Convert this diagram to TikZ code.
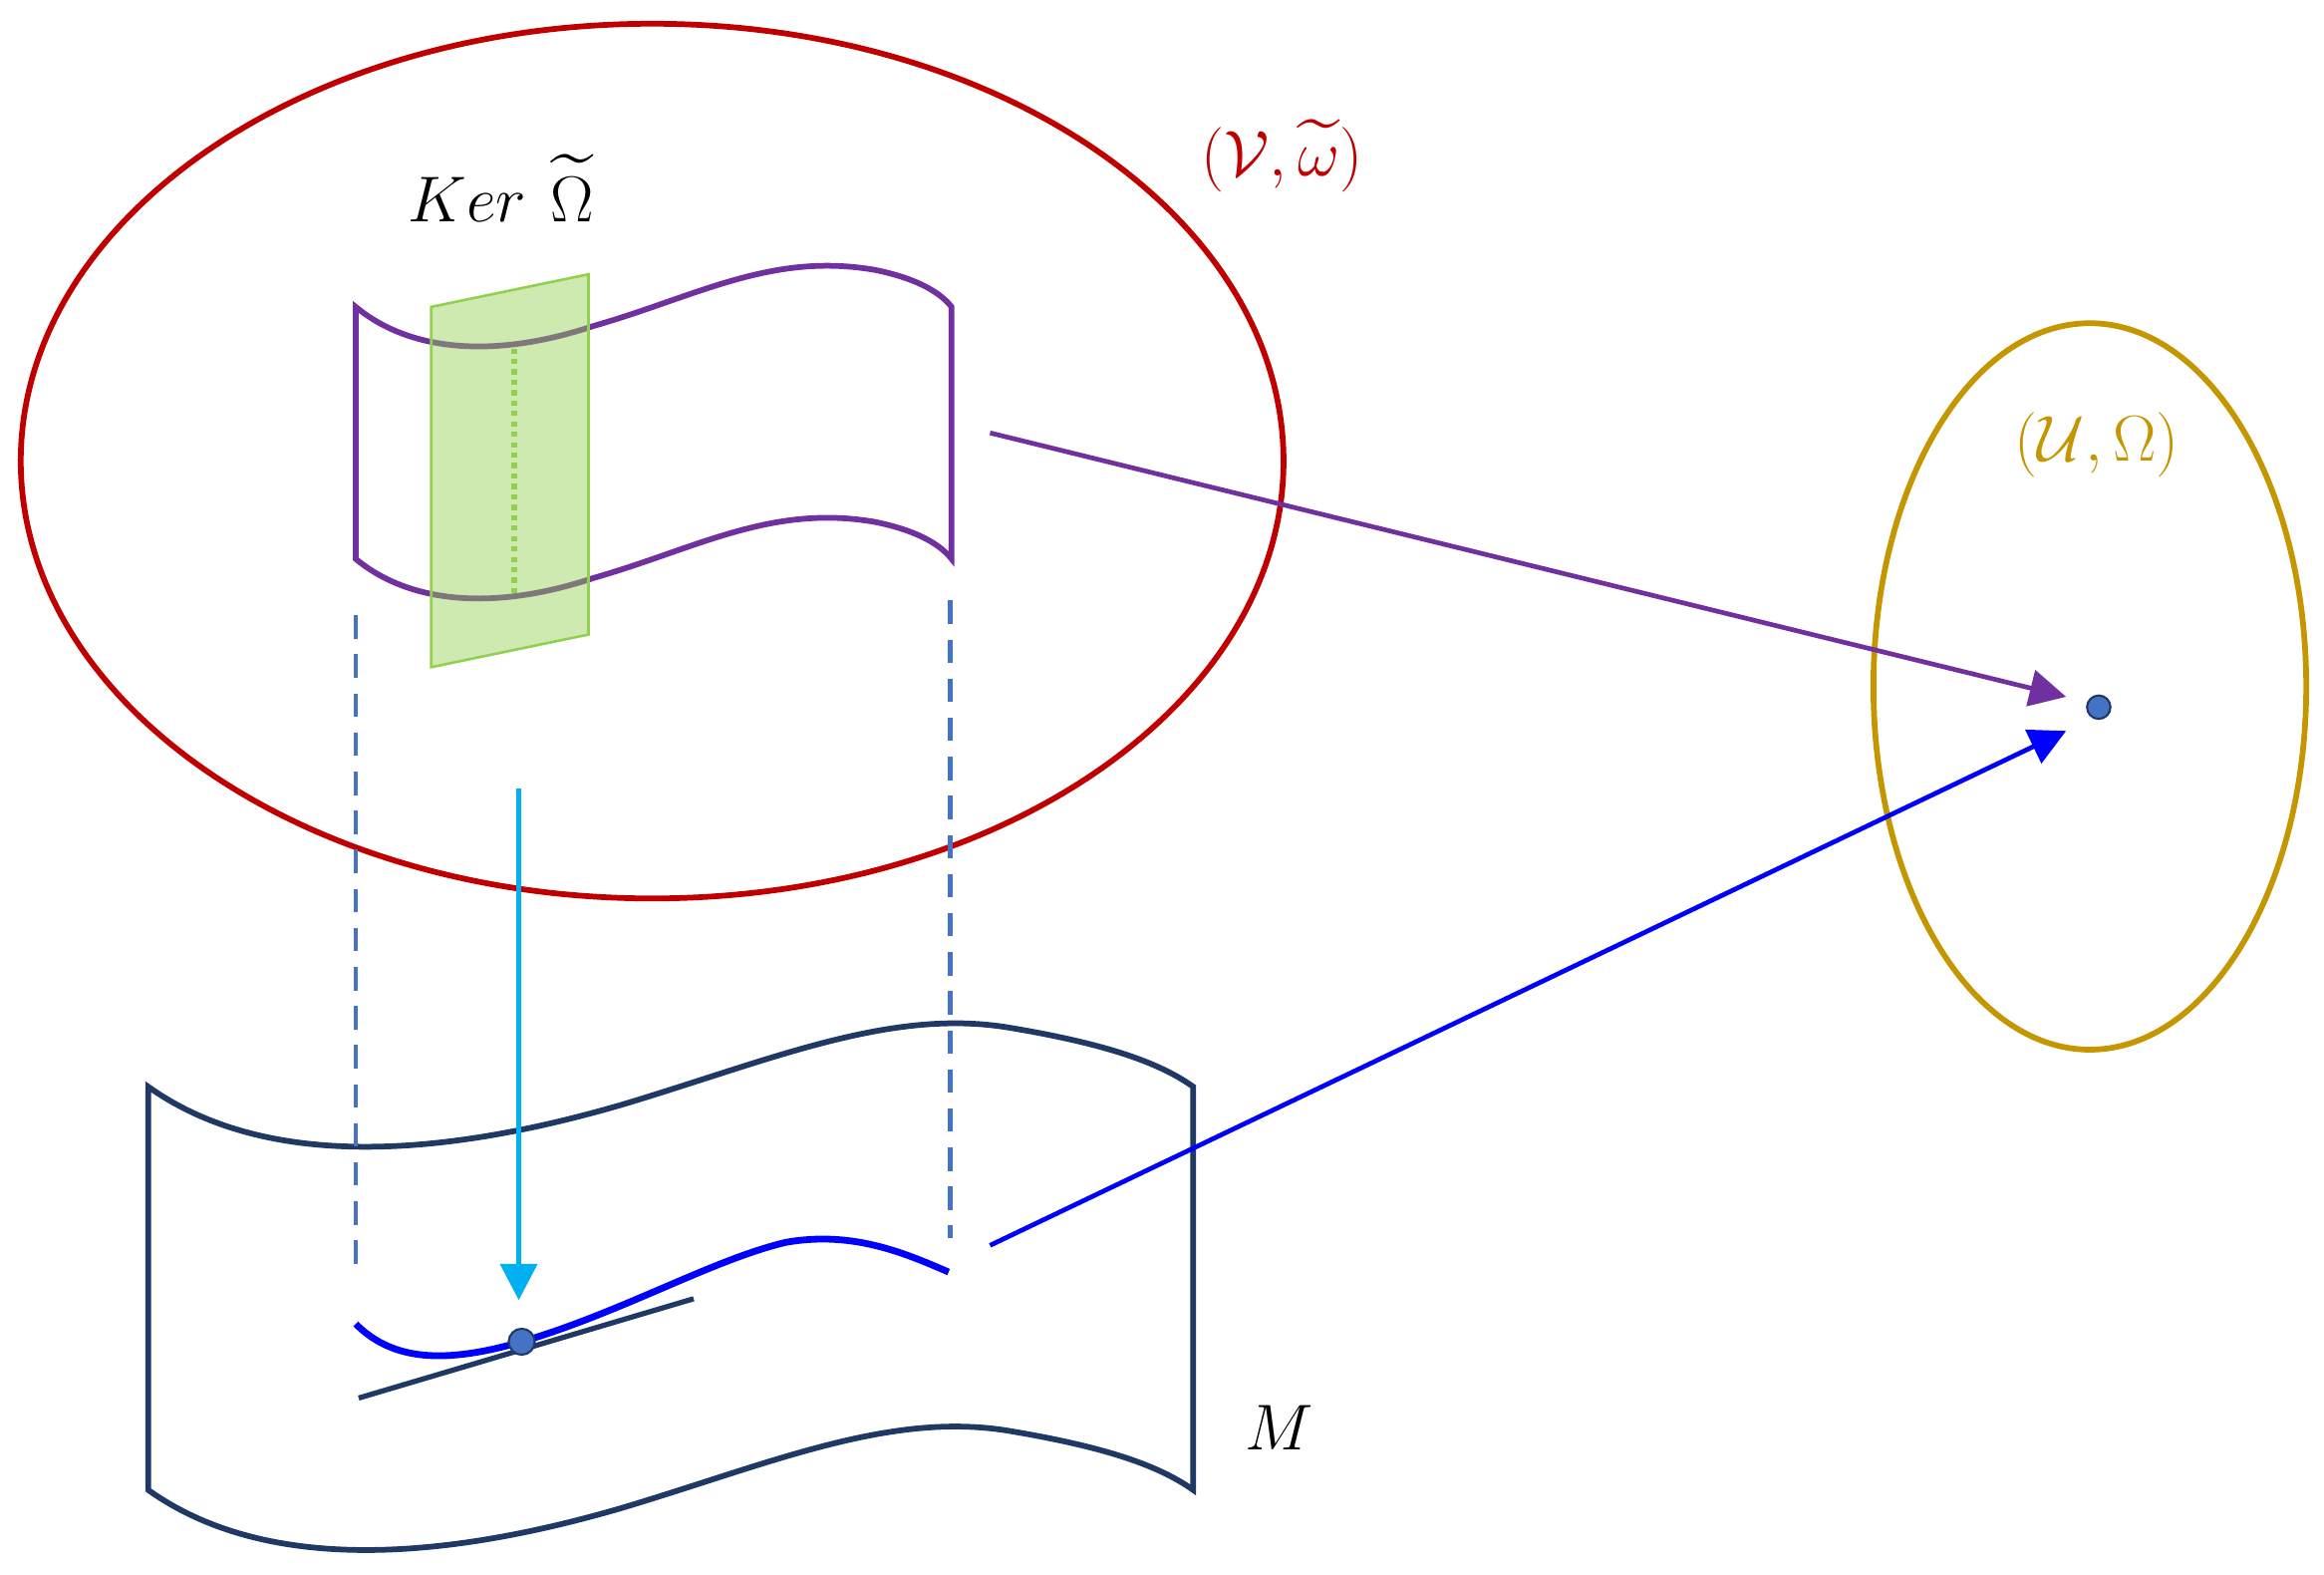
\documentclass[tikz,border=0pt]{standalone}
\usepackage{amsmath,amssymb}
\usetikzlibrary{arrows.meta}
\definecolor{cred}{RGB}{192,0,0}
\definecolor{cgold}{RGB}{196,150,0}
\definecolor{cpur}{RGB}{112,48,160}
\definecolor{cnavy}{RGB}{31,56,100}
\definecolor{cdash}{RGB}{68,114,196}
\definecolor{ccyan}{RGB}{0,176,240}
\definecolor{cgreen}{RGB}{146,208,80}
\begin{document}
\begin{tikzpicture}[x=0.02cm,y=-0.02cm,
  lab/.style={font=\fontsize{30}{36}\selectfont,inner sep=1pt},
  dot/.style={circle,fill=cdash,draw=cnavy,line width=0.8pt,inner sep=0pt,minimum size=10pt},
  arr/.style={-{Triangle[length=14pt,width=14pt]}}]
\useasboundingbox (0,0) rectangle (1568,1062);
\draw[cred,line width=2.2pt] (440,311) ellipse [x radius=426,y radius=295];
\draw[cgold,line width=2.2pt] (1410,463) ellipse [x radius=146,y radius=245];
\node[lab,text=cred] (lv) at (865,105) {$(\mathcal{V},\widetilde{\omega})$};
\node[lab,text=cgold] (lu) at (1415,300) {$(\mathcal{U},\Omega)$};
\node[lab] (lk) at (338,127) {$Ker\ \widetilde{\Omega}$};
\node[lab] (lm) at (863,963) {$M$};
% M sheet
\draw[cnavy,line width=2.2pt] (100,733) .. controls (180,790) and (300,780) .. (420,745) .. controls (520,715) and (600,680) .. (680,693) .. controls (740,703) and (780,715) .. (805,733) -- (805,1005) .. controls (780,987) and (740,975) .. (680,965) .. controls (600,952) and (520,987) .. (420,1017) .. controls (300,1052) and (180,1062) .. (100,1005) -- cycle;
% purple sheet
\draw[cpur,line width=2.2pt] (240,207) .. controls (280,240) and (340,240) .. (400,220) .. controls (470,200) and (520,170) .. (590,182) .. controls (620,188) and (635,198) .. (642,207) -- (642,377) .. controls (635,368) and (620,358) .. (590,352) .. controls (520,340) and (470,370) .. (400,390) .. controls (340,410) and (280,410) .. (240,377) -- cycle;
\fill[cgreen,opacity=0.45] (291,207) -- (397,185) -- (397,428) -- (291,450) -- cycle;
\draw[cgreen,line width=1pt] (291,207) -- (397,185) -- (397,428) -- (291,450) -- cycle;
\draw[cgreen,line width=2pt,dotted] (347,235) -- (347,402);
% dashed lines
\coordinate (d1) at (240,415); \coordinate (d2) at (240,860);
\coordinate (d3) at (641,405); \coordinate (d4) at (641,835);
\draw[cdash,line width=1.8pt,dash pattern=on 9pt off 6pt] (d1) -- (d2);
\draw[cdash,line width=1.8pt,dash pattern=on 9pt off 6pt] (d3) -- (d4);
% curve
\draw[blue,line width=2.6pt] (240,893) .. controls (265,918) and (300,920) .. (352,905) .. controls (420,885) and (480,850) .. (530,838) .. controls (575,830) and (610,845) .. (640,858);
\coordinate (t1) at (242,943); \coordinate (t2) at (468,876);
\draw[cnavy,line width=2pt] (t1) -- (t2);
\node[dot] (p) at (352,905) {};
\node[dot,minimum size=9pt] (q) at (1416,477) {};
\coordinate (c1) at (350,532); \coordinate (c2) at (350,877);
\draw[ccyan,line width=2.2pt,arr] (c1) -- (c2);
\coordinate (a1) at (668,292); \coordinate (a2) at (1394,470);
\draw[cpur,line width=1.8pt,arr] (a1) -- (a2);
\coordinate (b1) at (668,840); \coordinate (b2) at (1394,493);
\draw[blue,line width=1.8pt,arr] (b1) -- (b2);
\end{tikzpicture}
\end{document}
